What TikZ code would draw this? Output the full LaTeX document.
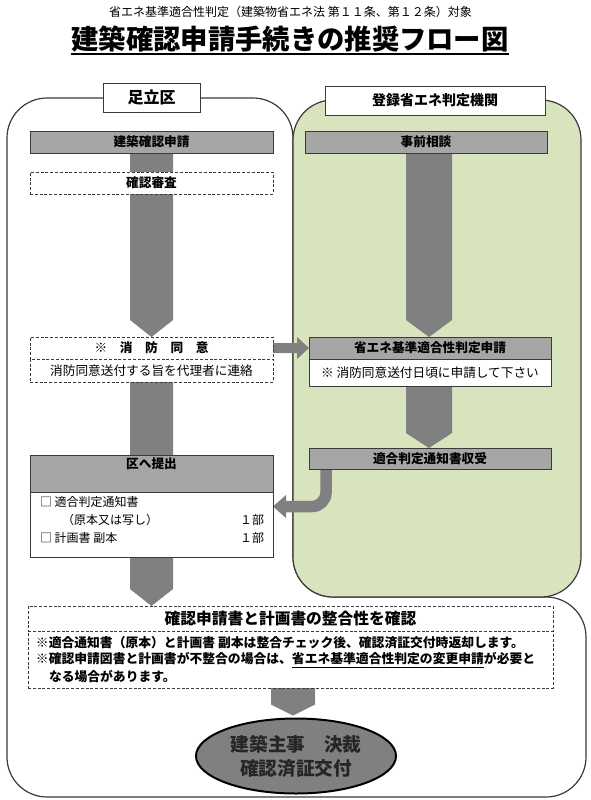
\documentclass[tikz,border=0pt]{standalone}
\usepackage{fontspec}
\setmainfont{Noto Sans CJK JP}
\usetikzlibrary{shapes.geometric,calc}
\definecolor{hdrgray}{HTML}{A6A6A6}
\definecolor{arrgray}{HTML}{808080}
\definecolor{greenbg}{HTML}{D7E4BD}
\definecolor{edgec}{HTML}{3A3A3A}
\pgfdeclarelayer{back}
\pgfdeclarelayer{mid}
\pgfsetlayers{back,mid,main}
\newcommand\px[1]{#1*0.75pt}
\newcommand\fs[1]{\fontsize{#1pt}{#1pt}\selectfont}
\newcommand\downblk[4]{%
  \fill[blk] let \p1=(#1), \p2=(#2) in
   (\x1-#3*0.75pt,\y1) -- (\x1+#3*0.75pt,\y1) -- (\x1+#3*0.75pt,\y2+#4*0.75pt)
   -- (\x1,\y2) -- (\x1-#3*0.75pt,\y2+#4*0.75pt) -- cycle;}
\tikzset{
  base/.style={inner sep=0pt, outer sep=0pt, align=center},
  sz/.style 2 args={minimum width=#1*0.75pt, minimum height=#2*0.75pt},
  hdrbox/.style={base, draw=edgec, line width=0.6pt, fill=hdrgray, font=\fs{9.5}\bfseries},
  dashbox/.style={base, draw=edgec, line width=0.6pt, fill=white, dash pattern=on 2.2pt off 1.4pt},
  whitebox/.style={base, draw=edgec, line width=0.6pt, fill=white},
  labelbox/.style={base, draw=edgec, line width=0.7pt, fill=white},
  txt/.style={inner sep=0pt, outer sep=0pt},
  blk/.style={fill=arrgray},
  region/.style={draw=edgec, line width=0.9pt, rounded corners=30pt},
}
\begin{document}
\begin{tikzpicture}[x=0.75pt,y=-0.75pt]
\useasboundingbox (0,0) rectangle (591,800);

\begin{pgfonlayer}{back}
  \draw[region, fill=white] (7,400) -- (7,98) -- (293,98) -- (293,597) -- (586,597) -- (586,797) -- (7,797) -- cycle;
  \draw[draw=edgec, line width=0.9pt, fill=greenbg, rounded corners=30pt] (293,100) rectangle (581,597);
\end{pgfonlayer}

% titles
\node[txt, font=\fs{9}] (sub) at (290.5,12) {省エネ基準適合性判定（建築物省エネ法 第１１条、第１２条）対象};
\node[txt, font=\fs{20.5}\bfseries] (title) at (290,39) {建築確認申請手続きの推奨フロー図};
\draw[line width=1.3pt] ($(title.south west)+(0,1.5)$) -- ($(title.south east)+(0,1.5)$);

% column labels
\node[labelbox, sz={97}{29}, font=\fs{12}\bfseries] (ashi) at (151.5,97.5) {足立区};
\node[labelbox, sz={220}{29}, font=\fs{10.5}\bfseries] (toroku) at (435,100.5) {登録省エネ判定機関};

% left column
\node[hdrbox, sz={243}{22}] (shinsei) at (151.5,142) {建築確認申請};
\node[dashbox, sz={243}{22}, font=\fs{9.5}\bfseries] (shinsa) at (151.5,183) {確認審査};
\node[dashbox, sz={243}{22}, font=\fs{9.5}\bfseries] (shoboT) at (151.5,348) {※　消　防　同　意};
\node[dashbox, sz={243}{23}, font=\fs{9.5}] (shoboB) at (151.5,370.5) {消防同意送付する旨を代理者に連絡};

% right column
\node[hdrbox, sz={242}{22}] (jizen) at (426,142) {事前相談};
\node[hdrbox, sz={242}{22}] (hanteiH) at (430,348) {省エネ基準適合性判定申請};
\node[whitebox, sz={242}{27}, font=\fs{9.5}] (hanteiB) at (430,372.5) {※ 消防同意送付日頃に申請して下さい};
\node[hdrbox, sz={242}{21}] (juju) at (430,458.5) {適合判定通知書収受};

% submission box
\node[hdrbox, sz={243}{37}] (teishutsuH) at (151.5,473.5) {};
\node[txt, font=\fs{9.5}\bfseries] (teishutsuL) at (151.5,464) {区へ提出};
\node[whitebox, sz={243}{65}] (teishutsuB) at (151.5,524.5) {};
\node[txt, anchor=west, font=\fs{9}] (doc1) at (40,502) {□ 適合判定通知書};
\node[txt, anchor=west, font=\fs{9}] (doc1b) at (62,520) {（原本又は写し）};
\node[txt, anchor=east, font=\fs{9}] (cnt1) at (264,520) {１部};
\node[txt, anchor=west, font=\fs{9}] (doc2) at (40,538) {□ 計画書 副本};
\node[txt, anchor=east, font=\fs{9}] (cnt2) at (264,538) {１部};

% consistency box
\node[dashbox, sz={525}{25}, font=\fs{11.8}\bfseries] (bigH) at (290.5,618.5) {確認申請書と計画書の整合性を確認};
\node[dashbox, sz={525}{57}] (bigB) at (290.5,659.5) {};
\node[txt, anchor=west, font=\fs{9.6}\bfseries] (note1) at (36,643) {※適合通知書（原本）と計画書 副本は整合チェック後、確認済証交付時返却します。};
\node[txt, anchor=west, font=\fs{9.6}\bfseries] (note2) at (36,660) {※確認申請図書と計画書が不整合の場合は、\underline{省エネ基準適合性判定の変更申請}が必要と};
\node[txt, anchor=west, font=\fs{9.6}\bfseries] (note3) at (49,677) {なる場合があります。};

% final ellipse
\node[ellipse, draw=black, line width=1.5pt, fill=arrgray, minimum width=200*0.75pt, minimum height=75*0.75pt,
      inner sep=0pt, align=center, font=\fs{14}\bfseries, text=black!85] (kessai) at (296,756)
      {建築主事　決裁\\[4pt]確認済証交付};

% block arrows
\begin{pgfonlayer}{mid}
  \downblk{shinsei.south}{shoboT.north}{21.5}{17}
  \downblk{shoboB.south}{$(teishutsuH.north)+(0,15)$}{21.5}{10}
  \downblk{teishutsuB.south}{bigH.north}{21.5}{17}
  \downblk{$(jizen.south)+(3,0)$}{hanteiH.north}{23}{17}
  \downblk{$(hanteiB.south)+(-1,0)$}{juju.north}{23}{15}
  \downblk{$(bigB.south)+(2.5,0)$}{$(kessai.north)+(0,-2)$}{22}{11}
  \fill[blk] let \p1=(shoboT.east), \p2=(hanteiH.west) in
    (\x1,\y1+3.75pt) -- (\x2-9pt,\y1+3.75pt) -- (\x2-9pt,\y1+8.25pt) -- (\x2,\y1)
    -- (\x2-9pt,\y1-8.25pt) -- (\x2-9pt,\y1-3.75pt) -- (\x1,\y1-3.75pt) -- cycle;
  \coordinate (cstart) at ($(juju.south)+(-104,-4)$);
  \coordinate (cturn) at (286,506.5);
  \draw[arrgray, line width=11.5*0.75pt, rounded corners=10.5pt] (cstart) |- (cturn);
  \fill[blk] ($(cturn)+(0,-11.5)$) -- ($(cturn)+(0,11.5)$) -- (teishutsuB.east |- cturn) -- cycle;
\end{pgfonlayer}
\end{tikzpicture}
\end{document}
